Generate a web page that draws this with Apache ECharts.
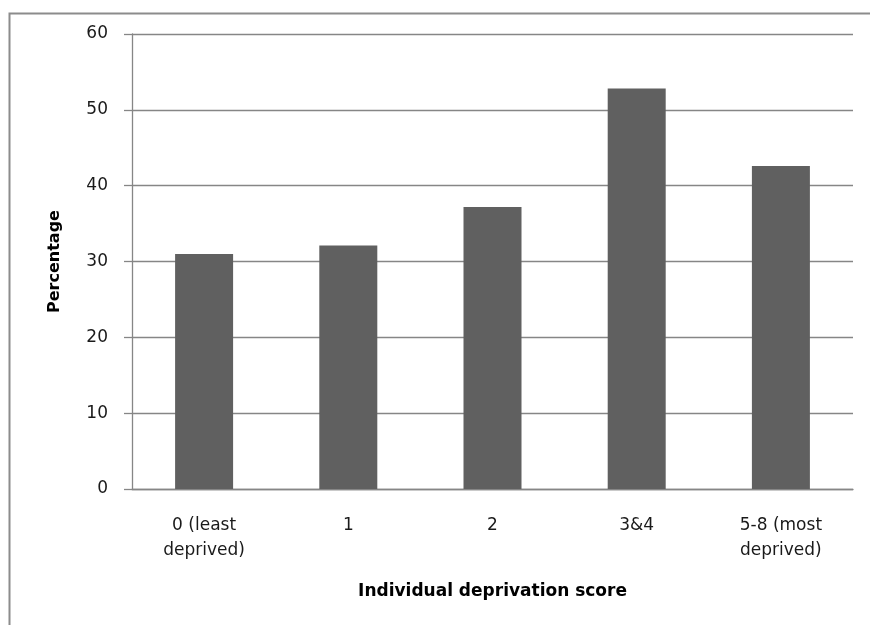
<!DOCTYPE html>
<html>
<head>
<meta charset="utf-8">
<script src="https://cdn.jsdelivr.net/npm/echarts@6/dist/echarts.min.js"></script>
<style>html,body{margin:0;padding:0;background:#fff}#c{width:870px;height:625px}</style>
</head>
<body>
<div id="c"></div>
<script>
const categories = ['0 (least\ndeprived)', '1', '2', '3&4', '5-8 (most\ndeprived)'];
const percentages = [31.0, 32.1, 37.2, 52.8, 42.6];
const yTicks = { min: 0, max: 60, interval: 10 };

const chart = echarts.init(document.getElementById('c'));
const gray = '#868686';
const font = 'DejaVu Sans';
chart.setOption({
  animation: false,
  backgroundColor: '#fff',
  graphic: [{
    type: 'rect', left: 7, top: 11, silent: true,
    shape: { width: 1000, height: 800 },
    style: { fill: 'none', stroke: '#8c8c8c', lineWidth: 2 }
  }],
  grid: { left: 132, right: 17, top: 34, bottom: 136 },
  xAxis: {
    type: 'category',
    data: categories,
    name: 'Individual deprivation score',
    nameLocation: 'middle',
    nameGap: 94,
    nameTextStyle: { fontFamily: font, fontSize: 17, fontWeight: 'bold', color: '#000' },
    axisLine: { lineStyle: { color: gray, width: 1.3 } },
    axisTick: { show: false },
    axisLabel: { fontFamily: font, fontSize: 17, color: '#1a1a1a', margin: 24, lineHeight: 25, interval: 0 }
  },
  yAxis: {
    type: 'value',
    min: yTicks.min, max: yTicks.max, interval: yTicks.interval,
    name: 'Percentage',
    nameLocation: 'middle',
    nameGap: 69,
    nameRotate: 90,
    nameTextStyle: { fontFamily: font, fontSize: 16, fontWeight: 'bold', color: '#000' },
    axisLine: { show: true, lineStyle: { color: gray, width: 1.3 } },
    axisTick: { show: true, length: 8, lineStyle: { color: gray, width: 1.3 } },
    splitLine: { lineStyle: { color: gray, width: 1.3 } },
    axisLabel: { fontFamily: font, fontSize: 17, color: '#1a1a1a', margin: 24 }
  },
  series: [{
    type: 'bar',
    data: percentages,
    barWidth: 58,
    itemStyle: { color: '#606060' }
  }]
});
</script>
</body>
</html>
